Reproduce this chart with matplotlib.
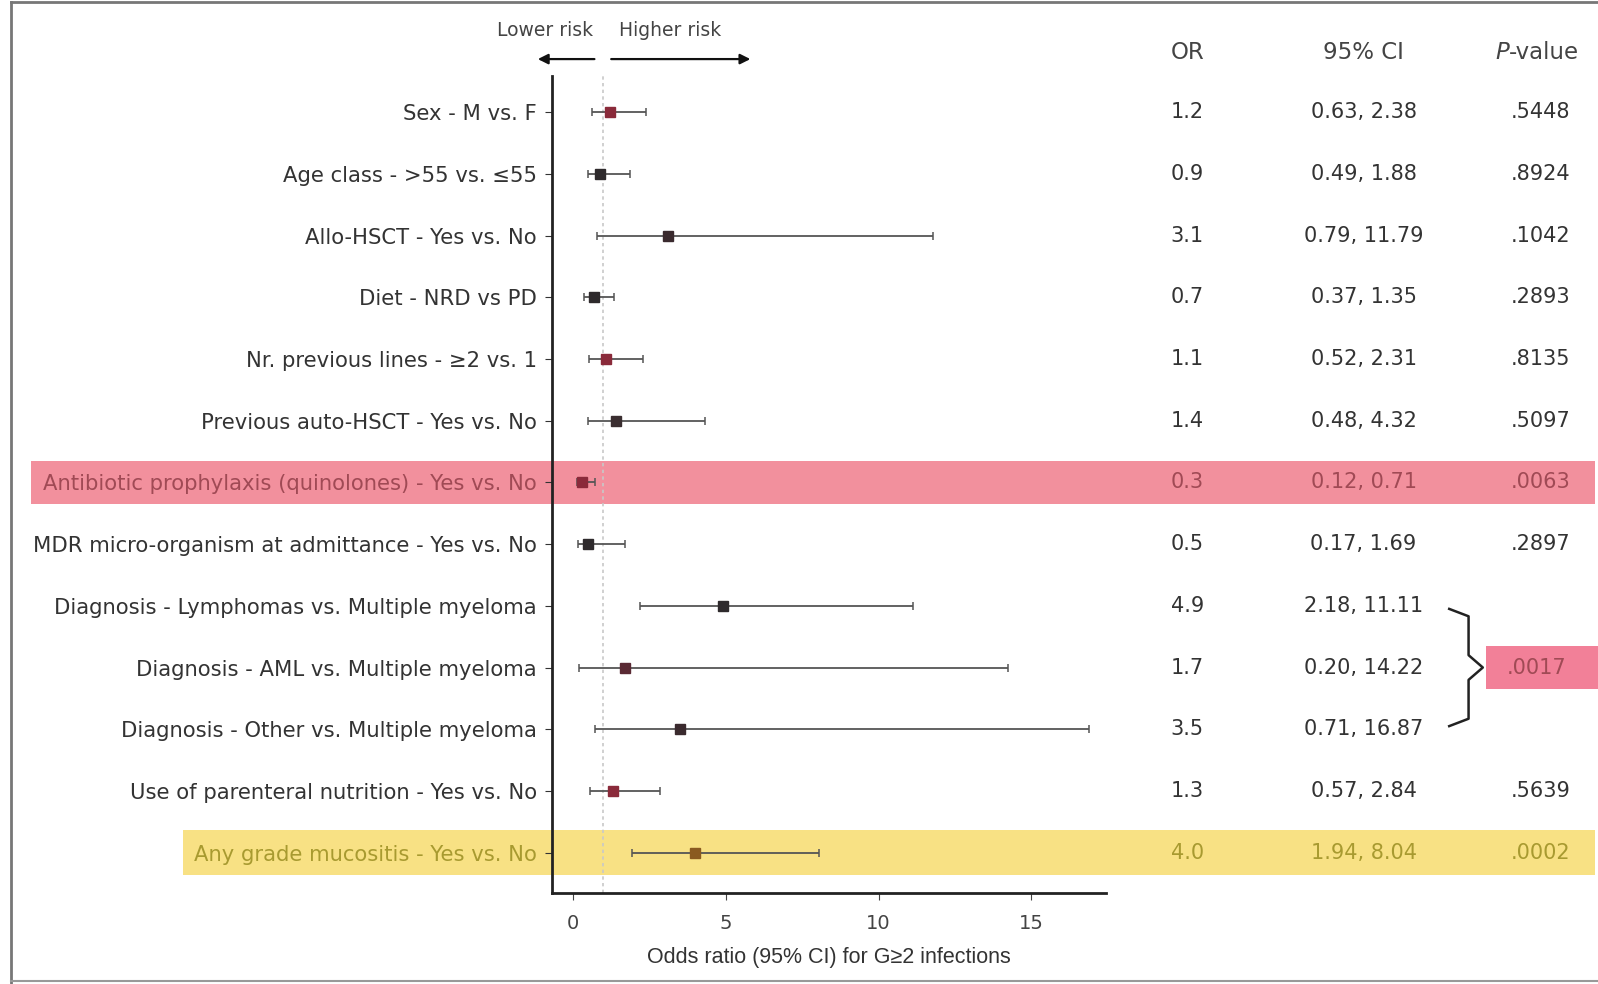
import matplotlib
matplotlib.use('Agg')
import matplotlib.pyplot as plt
from matplotlib.patches import Rectangle, FancyArrowPatch
from matplotlib.lines import Line2D
from matplotlib.transforms import blended_transform_factory

plt.rcParams['font.family'] = ['DejaVu Sans']

labels = [
    'Sex - M vs. F',
    'Age class - >55 vs. \u226455',
    'Allo-HSCT - Yes vs. No',
    'Diet - NRD vs PD',
    'Nr. previous lines - \u22652 vs. 1',
    'Previous auto-HSCT - Yes vs. No',
    'Antibiotic prophylaxis (quinolones) - Yes vs. No',
    'MDR micro-organism at admittance - Yes vs. No',
    'Diagnosis - Lymphomas vs. Multiple myeloma',
    'Diagnosis - AML vs. Multiple myeloma',
    'Diagnosis - Other vs. Multiple myeloma',
    'Use of parenteral nutrition - Yes vs. No',
    'Any grade mucositis - Yes vs. No',
]
odds = [1.2, 0.9, 3.1, 0.7, 1.1, 1.4, 0.3, 0.5, 4.9, 1.7, 3.5, 1.3, 4.0]
ci_low = [0.63, 0.49, 0.79, 0.37, 0.52, 0.48, 0.12, 0.17, 2.18, 0.20, 0.71, 0.57, 1.94]
ci_high = [2.38, 1.88, 11.79, 1.35, 2.31, 4.32, 0.71, 1.69, 11.11, 14.22, 16.87, 2.84, 8.04]
p_values = ['.5448', '.8924', '.1042', '.2893', '.8135', '.5097', '.0063', '.2897',
            '', '', '', '.5639', '.0002']
p_diagnosis = '.0017'

# per-row styling
marker_colors = ['#8a2a3a', '#2e2a2c', '#3a2a2e', '#2e2a2c', '#8a2a3a', '#3a2e30', '#8a2a3a',
                 '#2e2a2c', '#2e2a2c', '#5a2a34', '#3a2a2e', '#8a2a3a', '#8a5a20']
text_colors = ['#333333'] * 13
text_colors[6] = '#a04a55'
text_colors[12] = '#a89a30'

fig = plt.figure(figsize=(15.98, 9.84), dpi=100)
# layout measured on a 1568x966 view of the reference
W, H = 1568, 966


def fx(px):
    return px / W


def fy(py):
    return 1 - py / H


ax = fig.add_axes([fx(542), fy(877), fx(1085) - fx(542), fy(75) - fy(877)])
ax.patch.set_visible(False)

n = len(labels)
ys = [n - 1 - i for i in range(n)]

ax.axvline(1, color='#c8c8c8', lw=1.2, ls=(0, (2, 2)), zorder=1)
for i in range(n):
    ax.errorbar(odds[i], ys[i], xerr=[[odds[i] - ci_low[i]], [ci_high[i] - odds[i]]],
                fmt='s', color=marker_colors[i], ms=6.5, ecolor='#555555', elinewidth=1.3,
                capsize=3, capthick=1.1, zorder=3)

ax.set_xlim(-0.67, 17.43)
ax.set_ylim(-0.66, 12.58)
ax.set_xticks([0, 5, 10, 15])
ax.tick_params(axis='x', labelsize=14, colors='#444444', length=5, pad=10)
ax.set_yticks(ys)
ax.set_yticklabels(labels, fontsize=15.2)
ax.tick_params(axis='y', length=5, pad=6, colors='#333333')
for lab, c in zip(ax.get_yticklabels(), text_colors):
    lab.set_color(c)
for s in ['top', 'right']:
    ax.spines[s].set_visible(False)
for s in ['left', 'bottom']:
    ax.spines[s].set_linewidth(2)
    ax.spines[s].set_color('#222222')
ax.set_xlabel('Odds ratio (95% CI) for G\u22652 infections', fontsize=15.5, color='#333333',
              family=['Liberation Sans Narrow', 'DejaVu Sans Condensed', 'Liberation Sans'],
              labelpad=10)

tr = blended_transform_factory(fig.transFigure, ax.transData)

# highlight bands
fig.patches.append(Rectangle((fx(30), ys[6] - 0.35), fx(1565) - fx(30), 0.7, transform=tr,
                             facecolor='#f07d8c', alpha=0.85, edgecolor='none', zorder=-2))
fig.patches.append(Rectangle((fx(180), ys[12] - 0.37), fx(1565) - fx(180), 0.74, transform=tr,
                             facecolor='#f7dc6e', alpha=0.85, edgecolor='none', zorder=-2))
fig.patches.append(Rectangle((fx(1458), ys[9] - 0.35), fx(1568) - fx(1458), 0.7, transform=tr,
                             facecolor='#f06a86', alpha=0.85, edgecolor='none', zorder=-2))

# table columns
col_or, col_ci, col_p = fx(1165), fx(1338), fx(1512)
head_y = fy(52)
fig.text(col_or, head_y, 'OR', ha='center', va='center', fontsize=16.5, color='#444444')
fig.text(col_ci, head_y, '95% CI', ha='center', va='center', fontsize=16.5, color='#444444')
fig.text(col_p - fx(31), head_y, 'P', ha='right', va='center', fontsize=16.5, color='#444444',
         style='italic')
fig.text(col_p - fx(31), head_y, '-value', ha='left', va='center', fontsize=16.5,
         color='#444444')
for i in range(n):
    c = text_colors[i]
    ax.text(col_or, ys[i], f'{odds[i]:.1f}', transform=tr, ha='center', va='center',
            fontsize=15, color=c)
    ax.text(col_ci, ys[i], f'{ci_low[i]:.2f}, {ci_high[i]:.2f}', transform=tr, ha='center',
            va='center', fontsize=15, color=c)
    if p_values[i]:
        ax.text(col_p, ys[i], p_values[i], transform=tr, ha='center', va='center',
                fontsize=15, color=c)
ax.text(fx(1508), ys[9], p_diagnosis, transform=tr, ha='center', va='center',
        fontsize=15, color='#a04a55')

# brace grouping the diagnosis rows
bx0, bx1, bx2 = fx(1422), fx(1441), fx(1455)
by_top, by_mid, by_bot = ys[8] - 0.05, ys[9], ys[10] + 0.05
brace = Line2D([bx0, bx1, bx1, bx2, bx1, bx1, bx0],
               [by_top, by_top - 0.12, by_mid + 0.2, by_mid, by_mid - 0.2, by_bot + 0.12, by_bot],
               transform=tr, color='#222222', lw=1.8)
fig.lines.append(brace)

# risk direction arrows
fig.text(fx(535), fy(30), 'Lower risk', ha='center', va='center', fontsize=13.5, color='#444444')
fig.text(fx(658), fy(30), 'Higher risk', ha='center', va='center', fontsize=13.5, color='#444444')
fig.add_artist(FancyArrowPatch((fx(586), fy(58)), (fx(525), fy(58)),
               transform=fig.transFigure, arrowstyle='-|>', mutation_scale=15, lw=1.6,
               color='#111111'))
fig.add_artist(FancyArrowPatch((fx(597), fy(58)), (fx(739), fy(58)),
               transform=fig.transFigure, arrowstyle='-|>', mutation_scale=15, lw=1.6,
               color='#111111'))

# frame around the figure
fig.lines.append(Line2D([fx(11), fx(11)], [fy(2), fy(965)], transform=fig.transFigure,
                        color='#777777', lw=2))
fig.lines.append(Line2D([fx(11), 1], [fy(2), fy(2)], transform=fig.transFigure,
                        color='#777777', lw=2))
fig.lines.append(Line2D([fx(11), 1], [fy(963), fy(963)], transform=fig.transFigure,
                        color='#999999', lw=1.5))

fig.savefig('out.png', dpi=100, facecolor='white')
